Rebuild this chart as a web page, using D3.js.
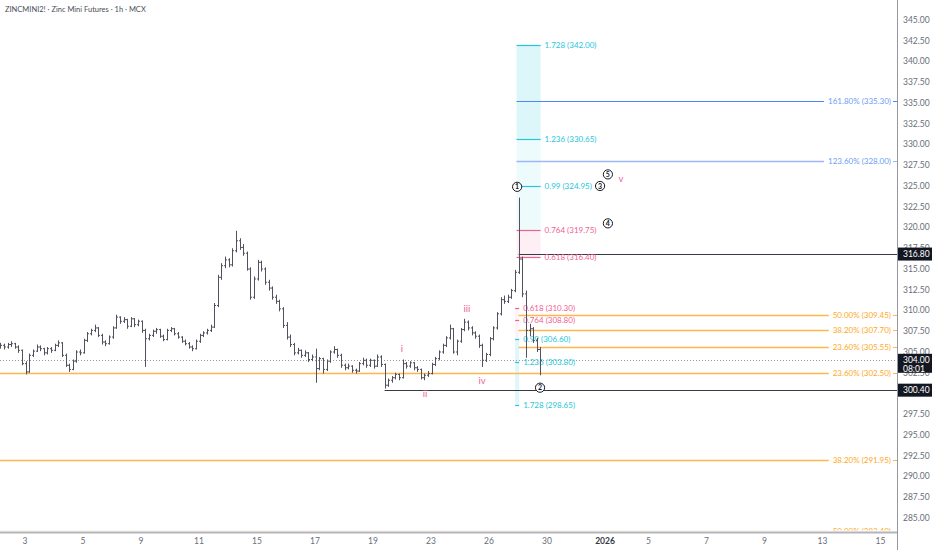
<!DOCTYPE html>
<html>
<head>
<meta charset="utf-8">
<script src="https://cdn.jsdelivr.net/npm/d3@7"></script>
<style>
  body { margin: 0; background: #fff; }
  svg { display: block; font-family: "Lato", "Liberation Sans", sans-serif; }
</style>
</head>
<body>
<div id="chart"></div>
<script>
// hourly bars, [open, high, low, close]
var ohlc = [
  [305.6,306.1,305.4,305.8],[305.8,306.0,305.3,305.6],[305.6,306.1,305.4,305.9],[305.9,306.3,305.6,306.0],
  [306.0,306.1,305.4,305.6],[305.6,305.8,304.9,305.2],[305.2,305.3,303.4,303.6],[303.6,303.9,302.3,302.6],
  [302.6,304.8,302.5,304.6],[304.6,305.3,304.4,305.1],[305.1,305.9,305.0,305.6],[305.6,305.8,305.1,305.4],
  [305.4,305.5,304.6,304.9],[304.9,305.6,304.7,305.4],[305.4,305.6,304.9,305.2],[305.2,306.0,305.1,305.8],
  [305.8,306.4,305.6,306.1],[306.1,306.2,304.4,304.6],[304.6,304.8,303.2,303.4],[303.4,303.6,302.6,302.9],
  [302.9,304.1,302.8,303.9],[303.9,305.2,303.7,305.0],[305.0,305.3,304.6,304.9],[304.9,306.6,304.8,306.4],
  [306.4,307.4,306.2,307.2],[307.2,307.8,307.0,307.6],[307.6,308.3,307.4,307.9],[307.9,308.0,306.8,307.0],
  [307.0,307.2,305.9,306.2],[306.2,306.4,305.7,306.0],[306.0,307.0,305.9,306.8],[306.8,308.1,306.6,307.9],
  [307.9,309.5,307.8,309.2],[309.2,309.3,308.4,308.7],[308.7,309.2,308.5,308.9],[308.9,309.0,307.8,308.1],
  [308.1,309.2,308.0,309.0],[309.0,309.1,308.0,308.3],[308.3,308.9,308.1,308.7],[308.7,308.8,307.3,307.6],
  [307.6,307.8,303.2,306.6],[306.6,307.2,306.4,307.0],[307.0,307.7,306.8,307.5],[307.5,307.9,307.2,307.7],
  [307.7,307.8,306.7,306.9],[306.9,307.1,306.3,306.5],[306.5,307.8,306.4,307.6],[307.6,308.0,307.4,307.8],
  [307.8,307.9,307.0,307.2],[307.2,307.4,306.6,306.8],[306.8,306.9,306.1,306.3],[306.3,306.5,305.8,306.0],
  [306.0,306.2,305.4,305.6],[305.6,305.8,305.1,305.4],[305.4,306.5,305.3,306.3],[306.3,307.2,306.1,307.0],
  [307.0,307.5,306.8,307.3],[307.3,307.8,307.1,307.6],[307.6,308.3,307.4,308.0],[308.0,310.9,307.9,310.6],
  [310.6,314.3,310.4,314.0],[314.0,315.7,313.7,315.4],[315.4,316.5,315.1,316.1],[316.1,316.3,315.2,315.5],
  [315.5,317.5,315.3,317.2],[317.2,319.6,317.0,318.4],[318.4,318.7,317.3,317.6],[317.6,318.0,316.6,316.9],
  [316.9,317.1,314.8,315.0],[315.0,315.2,311.3,311.6],[311.6,314.1,311.4,313.8],[313.8,316.1,313.6,315.8],
  [315.8,316.0,314.7,315.0],[315.0,315.2,313.1,313.4],[313.4,313.7,312.4,312.7],[312.7,312.9,311.3,311.6],
  [311.6,311.9,310.8,311.1],[311.1,311.3,309.9,310.2],[310.2,310.4,307.9,308.2],[308.2,308.6,306.5,306.8],
  [306.8,307.1,305.6,305.9],[305.9,306.1,304.6,304.9],[304.9,305.5,304.7,305.2],[305.2,305.3,304.3,304.6],
  [304.6,305.2,304.4,304.9],[304.9,305.0,303.8,304.1],[304.1,304.7,303.9,304.4],[304.4,305.4,301.3,303.0],
  [303.0,304.4,302.8,304.2],[304.2,304.3,302.4,302.9],[302.9,304.1,302.7,303.9],[303.9,305.2,303.7,305.0],
  [305.0,305.7,304.8,305.3],[305.3,305.4,304.3,304.6],[304.6,304.8,303.1,303.4],[303.4,303.6,302.8,303.1],
  [303.1,303.6,302.9,303.3],[303.3,303.4,302.5,302.8],[302.8,303.0,302.4,302.7],[302.7,303.8,302.6,303.6],
  [303.6,304.3,303.4,304.0],[304.0,304.2,303.1,303.4],[303.4,304.2,303.2,304.0],[304.0,304.1,303.0,303.3],
  [303.3,304.7,303.2,304.4],[304.4,304.6,303.2,303.5],[303.5,303.6,300.6,301.0],[301.0,301.8,300.8,301.6],
  [301.6,302.1,301.3,301.9],[301.9,302.5,301.7,302.3],[302.3,302.4,301.6,301.9],[301.9,304.1,301.8,303.6],
  [303.6,303.8,303.0,303.3],[303.3,303.9,303.1,303.7],[303.7,303.8,302.8,303.1],[303.1,303.3,302.6,302.9],
  [302.9,303.0,301.7,301.9],[301.9,302.4,301.6,302.2],[302.2,302.7,302.0,302.4],[302.4,303.7,302.3,303.5],
  [303.5,304.4,303.3,304.2],[304.2,305.2,304.0,305.0],[305.0,306.0,304.8,305.8],[305.8,306.9,305.6,306.7],
  [306.7,308.3,306.5,307.8],[307.8,307.9,304.8,305.0],[305.0,306.5,304.6,306.3],[306.3,307.9,306.1,307.7],
  [307.7,309.0,307.5,308.6],[308.6,308.8,307.6,307.9],[307.9,308.1,307.0,307.3],[307.3,307.5,306.6,306.9],
  [306.9,307.1,305.5,305.8],[305.8,306.0,303.2,304.0],[304.0,304.9,303.8,304.7],[304.7,306.8,304.5,306.6],
  [306.6,308.1,306.4,307.9],[307.9,309.8,307.7,309.6],[309.6,311.6,309.4,311.3],[311.3,311.8,310.8,311.1],
  [311.1,311.9,310.9,311.6],[311.6,312.6,311.4,312.4],[312.4,314.9,312.2,314.6],[314.6,323.6,314.4,316.2],
  [316.2,316.5,311.6,312.0],[312.0,312.4,304.3,307.6],[307.6,308.4,306.9,307.8],[307.8,308.0,306.1,306.4],
  [306.4,306.7,305.0,305.3],[305.3,305.6,302.2,304.0]
];
var firstSession = 1.15;     // session index of the first bar
var barsPerSession = 8;

var priceTicks = [345, 342.5, 340, 337.5, 335, 332.5, 330, 327.5, 325, 322.5, 320, 317.5, 315,
  312.5, 310, 307.5, 305, 302.5, 300, 297.5, 295, 292.5, 290, 287.5, 285];

// [session, label]
var dateTicks = [[2,"3"],[4,"5"],[6,"9"],[8,"11"],[10,"15"],[12,"17"],[14,"19"],[16,"23"],
  [18,"26"],[20,"30"],[22,"2026"],[23.5,"5"],[25.5,"7"],[27.5,"9"],[29.5,"13"],[31.5,"15"]];

// fib retracement levels: [label, price, start session]
var fibOrange = [["50.00%",309.45,19.02],["38.20%",307.70,19.02],["23.60%",305.55,19.02],
  ["23.60%",302.50,0],["38.20%",291.95,0],["50.00%",283.40,0]];
var fibBlue = [["161.80%",335.30,18.95],["123.60%",328.00,18.95]];

// plain horizontal rays: [price, start session]
var rays = [[316.80,19.02],[300.40,14.4]];

// trend based fib extension, upper: [ratio, price]
var extUpper = [["1.728",342.00],["1.236",330.65],["0.99",324.95],["0.764",319.75],["0.618",316.40]];
var extUpperSpan = [18.95, 19.78];
// lower one
var extLower = [["0.618",310.30],["0.764",308.80],["0.99",306.60],["1.236",303.80],["1.728",298.65]];
var extLowerSpan = [18.9, 19.04];

// elliott wave labels: [text, session, price]
var waveCircles = [["1",18.97,324.9],["2",19.76,300.7],["3",21.83,325.0],["4",22.1,320.5],["5",22.1,326.4]];
var waveRoman = [["i",15.0,305.4],["ii",15.79,300.0],["iii",17.24,310.2],["iv",17.76,301.5],["v",22.55,325.9]];

var lastPrice = 304.00, lastTime = "08:01";

var svgWidth = 932, svgHeight = 550;
var plotW = 897, plotH = 532;

var svg = d3.select("#chart").append("svg")
  .attr("width", svgWidth)
  .attr("height", svgHeight);

var x = d3.scaleLinear().domain([2, 32]).range([25, 895]);
var y = d3.scaleLinear().domain([285, 345]).range([518, 20]);

svg.append("clipPath").attr("id", "plot")
  .append("rect").attr("width", plotW).attr("height", plotH - 1.5);

var plot = svg.append("g").attr("clip-path", "url(#plot)");

var cyan = "#26c6da", pink = "#f06292", orange = "#ffb74d", blue = "#4f86f7";
function levelColor(r) { return (+r >= 0.99) ? cyan : pink; }

// upper extension shading
var upZones = [[342.00,330.65,cyan,0.16],[330.65,319.75,cyan,0.08],[319.75,316.40,pink,0.1]];
plot.selectAll(".zoneU").data(upZones).enter().append("rect")
  .attr("x", x(extUpperSpan[0]))
  .attr("width", x(extUpperSpan[1]) - x(extUpperSpan[0]))
  .attr("y", d => y(d[0]))
  .attr("height", d => y(d[1]) - y(d[0]))
  .attr("fill", d => d[2]).attr("fill-opacity", d => d[3]);

// lower extension shading (narrow)
var lowZones = [[310.30,306.60,pink,0.08],[306.60,298.65,cyan,0.14]];
plot.selectAll(".zoneL").data(lowZones).enter().append("rect")
  .attr("x", x(extLowerSpan[0]))
  .attr("width", x(extLowerSpan[1]) - x(extLowerSpan[0]))
  .attr("y", d => y(d[0]))
  .attr("height", d => y(d[1]) - y(d[0]))
  .attr("fill", d => d[2]).attr("fill-opacity", d => d[3]);

// current price dotted line
plot.append("line")
  .attr("x1", 0).attr("x2", plotW)
  .attr("y1", Math.round(y(lastPrice)) + 0.5).attr("y2", Math.round(y(lastPrice)) + 0.5)
  .attr("stroke", "#9598a1").attr("stroke-dasharray", "1,2");

// horizontal fib levels with right-side label
function drawLevels(levels, color, width, textColor) {
  levels.forEach(function(d, i) {
    var yy = Math.round(y(d[1])) + 0.5;
    var c = typeof color === "function" ? color(i) : color;
    var t = plot.append("text")
      .attr("x", plotW - 6).attr("y", yy).attr("dy", "0.35em")
      .attr("text-anchor", "end")
      .attr("font-size", "8px").attr("fill", textColor)
      .text(d[0] + " (" + d[1].toFixed(2) + ")");
    var tw = t.node().getComputedTextLength();
    plot.append("line")
      .attr("x1", x(d[2])).attr("x2", plotW - 6 - tw - 4)
      .attr("y1", yy).attr("y2", yy)
      .attr("stroke", c)
      .attr("stroke-width", typeof width === "function" ? width(i) : width);
    plot.append("line")
      .attr("x1", plotW - 4).attr("x2", plotW)
      .attr("y1", yy).attr("y2", yy)
      .attr("stroke", c);
  });
}
drawLevels(fibOrange, orange, 1.3, "#ffa726");
drawLevels(fibBlue, i => i === 0 ? blue : "#9db6f7", i => i === 0 ? 1 : 1.6, "#6e9cf7");

// rays
plot.selectAll(".ray").data(rays).enter().append("line")
  .attr("x1", d => x(d[1])).attr("x2", plotW)
  .attr("y1", d => Math.round(y(d[0])) + 0.5).attr("y2", d => Math.round(y(d[0])) + 0.5)
  .attr("stroke", "#363a45").attr("stroke-width", 1);

// extension level ticks and labels
function drawExt(levels, span) {
  levels.forEach(function(d) {
    var yy = Math.round(y(d[1])) + 0.5;
    plot.append("line")
      .attr("x1", x(span[0])).attr("x2", x(span[1]))
      .attr("y1", yy).attr("y2", yy)
      .attr("stroke", levelColor(d[0])).attr("stroke-width", 1.2);
    plot.append("text")
      .attr("x", x(span[1]) + 4).attr("y", yy).attr("dy", "0.35em")
      .attr("font-size", "8px").attr("fill", levelColor(d[0]))
      .text(d[0] + " (" + d[1].toFixed(2) + ")");
  });
}
drawExt(extUpper, extUpperSpan);
drawExt(extLower, extLowerSpan);

// OHLC bars
var barColor = "#50535e";
var bars = plot.append("g").attr("stroke", barColor).attr("stroke-width", 1);
ohlc.forEach(function(d, i) {
  var cx = Math.round(x(firstSession + i / barsPerSession)) + 0.5;
  bars.append("line").attr("x1", cx).attr("x2", cx).attr("y1", y(d[1])).attr("y2", y(d[2]));
  bars.append("line").attr("x1", cx - 1.5).attr("x2", cx).attr("y1", y(d[0])).attr("y2", y(d[0]));
  bars.append("line").attr("x1", cx).attr("x2", cx + 1.5).attr("y1", y(d[3])).attr("y2", y(d[3]));
});

// elliott wave circled numbers
var circ = plot.selectAll(".wc").data(waveCircles).enter().append("g")
  .attr("transform", d => "translate(" + x(d[1]) + "," + y(d[2]) + ")");
circ.append("circle").attr("r", 4.6).attr("fill", "#fff").attr("stroke", "#131722").attr("stroke-width", 1);
circ.append("text").attr("text-anchor", "middle").attr("dy", "0.36em")
  .attr("font-size", "7px").attr("font-weight", "bold").attr("fill", "#131722")
  .text(d => d[0]);

plot.selectAll(".wr").data(waveRoman).enter().append("text")
  .attr("x", d => x(d[1])).attr("y", d => y(d[2])).attr("dy", "0.35em")
  .attr("text-anchor", "middle")
  .attr("font-size", "9.5px").attr("fill", "#f06292")
  .text(d => d[0]);

// title
svg.append("text").attr("x", 5).attr("y", 12)
  .attr("font-size", "7.5px").attr("fill", "#4a4d57")
  .text("ZINCMINI2! · Zinc Mini Futures · 1h · MCX");

// axes frame
svg.append("line").attr("x1", 0).attr("x2", plotW).attr("y1", plotH + 0.5).attr("y2", plotH + 0.5)
  .attr("stroke", "#b2b5be").attr("stroke-width", 2);
svg.append("line").attr("x1", plotW + 0.5).attr("x2", plotW + 0.5).attr("y1", 0).attr("y2", svgHeight)
  .attr("stroke", "#9598a1").attr("stroke-width", 1);

// price axis labels
svg.selectAll(".pt").data(priceTicks).enter().append("text")
  .attr("x", 903).attr("y", d => y(d)).attr("dy", "0.35em")
  .attr("font-size", "8.5px").attr("fill", "#6a6d78")
  .text(d => d.toFixed(2));

// date labels
svg.selectAll(".dt").data(dateTicks).enter().append("text")
  .attr("x", d => x(d[0])).attr("y", 544)
  .attr("text-anchor", "middle")
  .attr("font-size", "8.5px")
  .attr("font-weight", d => d[1] === "2026" ? "bold" : "normal")
  .attr("fill", d => d[1] === "2026" ? "#363a45" : "#6a6d78")
  .text(d => d[1]);

// price boxes on the axis
function priceBox(price, extra) {
  var yy = y(price);
  var h = extra ? 19 : 13;
  svg.append("rect").attr("x", plotW + 1).attr("y", yy - 6.5).attr("width", svgWidth - plotW - 1)
    .attr("height", h).attr("fill", "#131722");
  svg.append("text").attr("x", 903).attr("y", yy).attr("dy", "0.35em")
    .attr("font-size", "8.5px").attr("fill", "#fff").text(price.toFixed(2));
  if (extra) {
    svg.append("text").attr("x", 903).attr("y", yy + 9).attr("dy", "0.35em")
      .attr("font-size", "8.5px").attr("fill", "#fff").text(extra);
  }
}
rays.forEach(d => priceBox(d[0]));
priceBox(lastPrice, lastTime);
</script>
</body>
</html>
